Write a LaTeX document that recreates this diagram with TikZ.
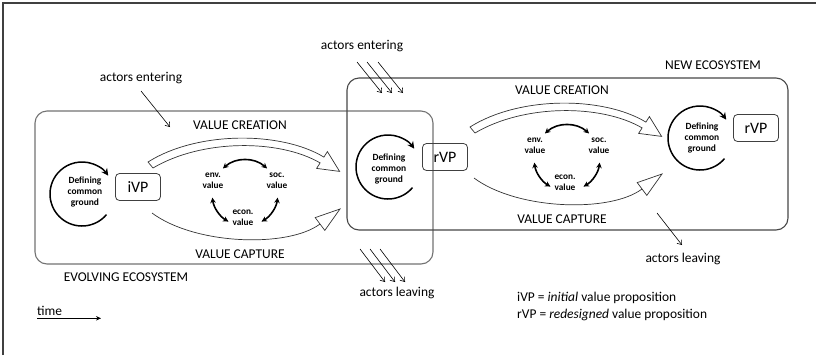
\documentclass[tikz,border=0pt]{standalone}
\usepackage{fontspec}
\setmainfont{Carlito}
\usetikzlibrary{arrows.meta,calc}
\begin{document}
\begin{tikzpicture}[x=1bp,y=-1bp,
  txt/.style={font=\fontsize{13.5}{16}\selectfont, inner sep=0pt},
  small/.style={font=\bfseries\fontsize{9.5}{11.5}\selectfont, align=center, inner sep=0pt},
  cyc/.style={font=\bfseries\fontsize{9.3}{11.5}\selectfont, align=center, inner sep=0pt},
  vp/.style={draw=black!75, line width=0.8pt, rounded corners=4bp, minimum width=45bp, minimum height=27bp, font=\fontsize{16}{18}\selectfont, inner sep=0pt},
  ecobox/.style={line width=1.1pt, rounded corners=12bp},
  actor/.style={line width=0.6pt, -{Straight Barb[length=4bp,width=6bp]}},
  cycarrow/.style={line width=1.6pt, {Stealth[length=5.5bp,width=5.5bp]}-{Stealth[length=5.5bp,width=5.5bp]}},
  ground/.style={line width=1.5pt, -{Stealth[length=7bp,width=7bp]}},
  band/.style={draw=black!80, line width=0.7pt, fill=white},
  capline/.style={draw=black!80, line width=0.7pt},
]
\useasboundingbox (0,0) rectangle (816,355);
\fill[white] (0,0) rectangle (816,355);
% frame
\draw[line width=1.2pt, black!75] (3,355) -- (3,3) -- (816,3);
% ecosystem boxes
\draw[ecobox, draw=black!55] (35,111) rectangle (433,264);
\draw[ecobox, draw=black!72] (347,78) rectangle (788,230);
\node[txt] (evlabel) at (126,277) {EVOLVING ECOSYSTEM};
\node[txt] (newlabel) at (713,65) {NEW ECOSYSTEM};

% actors
\node[txt] (ent1) at (141,78) {actors entering};
\coordinate (e1s) at (141,91); \coordinate (e1e) at (170,127);
\draw[actor] (e1s) -- (e1e);

\node[txt] (ent2) at (362,46) {actors entering};
\coordinate (e2a) at (357,62); \coordinate (e2b) at (382,93);
\coordinate (e2c) at (367,62); \coordinate (e2d) at (392,93);
\coordinate (e2e) at (378,62); \coordinate (e2f) at (403,93);
\draw[actor] (e2a) -- (e2b);
\draw[actor] (e2c) -- (e2d);
\draw[actor] (e2e) -- (e2f);

\node[txt] (lea1) at (397,293) {actors leaving};
\coordinate (l1a) at (360,249); \coordinate (l1b) at (385,282);
\coordinate (l1c) at (370,249); \coordinate (l1d) at (395,282);
\coordinate (l1e) at (380,249); \coordinate (l1f) at (405,282);
\draw[actor] (l1a) -- (l1b);
\draw[actor] (l1c) -- (l1d);
\draw[actor] (l1e) -- (l1f);

\node[txt] (lea2) at (683,259) {actors leaving};
\coordinate (l2a) at (657,213); \coordinate (l2b) at (682,245);
\draw[actor] (l2a) -- (l2b);

% legend and time
\node[txt, anchor=west] (leg1) at (517,298) {iVP = \textit{initial} value proposition};
\node[txt, anchor=west] (leg2) at (517,315) {rVP = \textit{redesigned} value proposition};
\node[txt, anchor=base west] (time) at (37,315.5) {time};
\coordinate (t0) at (37,318.3); \coordinate (t1) at (101,318.3);
\draw[line width=0.8pt, -{Stealth[length=5bp,width=4.5bp]}] (t0) -- (t1);

% defining common ground circles and value propositions
\coordinate (c1) at (82,194);
\draw[ground] ([shift={(40:32)}]c1) arc[start angle=40, end angle=325, radius=32];
\node[small] (g1) at (85,192) {Defining\\common\\ground};
\node[vp] (ivp) at (138,187) {iVP};

\coordinate (c2) at (388,167);
\draw[ground] ([shift={(40:32)}]c2) arc[start angle=40, end angle=325, radius=32];
\node[small] (g2) at (389,169) {Defining\\common\\ground};
\node[vp] (rvp1) at (445,157) {rVP};

\coordinate (c3) at (700,138);
\draw[ground] ([shift={(40:32)}]c3) arc[start angle=40, end angle=325, radius=32];
\node[small] (g3) at (702,138) {Defining\\common\\ground};
\node[vp] (rvp2) at (756,128) {rVP};

% value group 1
\node[txt] (vcr1) at (240,125) {VALUE CREATION};
\node[txt] (vca1) at (240,254) {VALUE CAPTURE};
\draw[band] (148,162) .. controls (197,131) and (281,131) .. (323.9,157.1) -- (327.4,151.6) -- (339.6,171.4) -- (316.6,168.4) -- (320.1,162.9) .. controls (279,139) and (202,139) .. (153,168) -- cycle;
\draw[capline] (152,213) .. controls (195,245) and (288,248) .. (320,224);
\draw[band] (324.8,230.4) -- (340,209) -- (315.2,217.6) -- cycle;
\coordinate (cy1) at (245,193);
\node[cyc] (env1) at (213,181) {env.\\value};
\node[cyc] (soc1) at (277,181) {soc.\\value};
\node[cyc] (eco1) at (243,218) {econ.\\value};
\draw[cycarrow] ([shift={(228:33)}]cy1) arc[start angle=228, end angle=312, radius=33];
\draw[cycarrow] ([shift={(120:33)}]cy1) arc[start angle=120, end angle=172, radius=33];
\draw[cycarrow] ([shift={(8:33)}]cy1) arc[start angle=8, end angle=60, radius=33];

% value group 2
\begin{scope}[shift={(322,-35)}]
\node[txt] (vcr2) at (240,125) {VALUE CREATION};
\node[txt] (vca2) at (240,254) {VALUE CAPTURE};
\draw[band] (148,162) .. controls (197,131) and (281,131) .. (323.9,157.1) -- (327.4,151.6) -- (339.6,171.4) -- (316.6,168.4) -- (320.1,162.9) .. controls (279,139) and (202,139) .. (153,168) -- cycle;
\draw[capline] (152,213) .. controls (195,245) and (288,248) .. (320,224);
\draw[band] (324.8,230.4) -- (340,209) -- (315.2,217.6) -- cycle;
\coordinate (cy2) at (245,193);
\node[cyc] (env2) at (213,181) {env.\\value};
\node[cyc] (soc2) at (277,181) {soc.\\value};
\node[cyc] (eco2) at (243,218) {econ.\\value};
\draw[cycarrow] ([shift={(228:33)}]cy2) arc[start angle=228, end angle=312, radius=33];
\draw[cycarrow] ([shift={(120:33)}]cy2) arc[start angle=120, end angle=172, radius=33];
\draw[cycarrow] ([shift={(8:33)}]cy2) arc[start angle=8, end angle=60, radius=33];
\end{scope}
\end{tikzpicture}
\end{document}
